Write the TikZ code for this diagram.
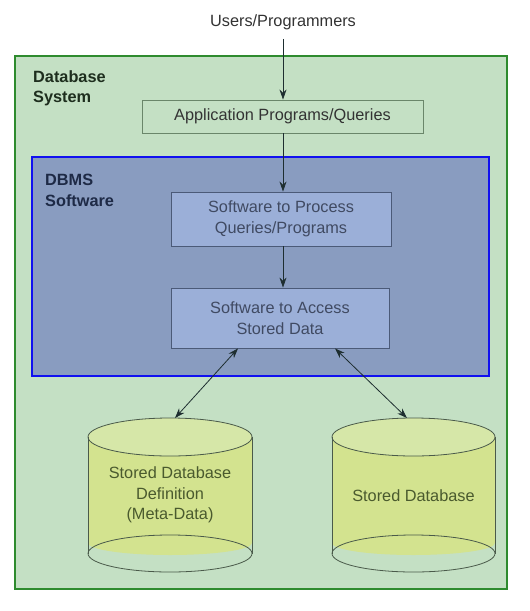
\documentclass[tikz,border=0pt]{standalone}
\usepackage{fontspec}
\setmainfont{Liberation Sans}
\usetikzlibrary{arrows.meta,calc}

\definecolor{sysfill}{HTML}{C4E0C4}
\definecolor{sysline}{HTML}{2E8B2E}
\definecolor{dbmsfill}{HTML}{899CC0}
\definecolor{dbmsline}{HTML}{1010F0}
\definecolor{boxfill}{HTML}{9BAFD8}
\definecolor{boxline}{HTML}{4B5A78}
\definecolor{appline}{HTML}{6A866A}
\definecolor{navytext}{HTML}{1E2A46}
\definecolor{greentext}{HTML}{1E2E1E}
\definecolor{cyltop}{HTML}{D6E7A8}
\definecolor{cylbody}{HTML}{D3E38F}
\definecolor{cylline}{HTML}{4A5A4A}
\definecolor{cyltext}{HTML}{4A5A2E}
\definecolor{arrowcol}{HTML}{1E2E30}

\tikzset{
  every node/.style={font=\fontsize{16.3}{20.5}\selectfont, inner sep=0pt},
  procbox/.style={draw=boxline, fill=boxfill, line width=0.9pt, text=navytext!85!white,
    align=center},
  appbox/.style={draw=appline, fill=sysfill, line width=0.9pt, text=black!80},
  flow/.style={draw=arrowcol, line width=0.8pt, -{Stealth[length=10pt,width=7pt]}},
  biflow/.style={draw=arrowcol, line width=0.8pt,
    {Stealth[length=10pt,width=7pt]}-{Stealth[length=10pt,width=7pt]}},
  heading/.style={font=\bfseries\fontsize{16.3}{20.5}\selectfont, align=left, anchor=north west},
  cylinder line/.style={draw=cylline, line width=0.8pt},
}

\begin{document}
\begin{tikzpicture}[x=1pt, y=-1pt]
  \useasboundingbox (0,0) rectangle (530,611);

  % Database system container
  \node[draw=sysline, fill=sysfill, line width=1.6pt, minimum width=492pt,
        minimum height=533pt] (system) at (261,322.5) {};
  \node[heading, text=greentext] (systitle) at (33,70) {Database\\System};

  % DBMS software container
  \node[draw=dbmsline, fill=dbmsfill, line width=1.6pt, minimum width=457pt,
        minimum height=219pt] (dbms) at (260.5,266.5) {};
  \node[heading, text=navytext] (dbmstitle) at (45,174) {DBMS\\Software};

  % Users and application layer
  \node[text=black!80] (users) at (283,22) {Users/Programmers};
  \node[appbox, minimum width=281pt, minimum height=33pt] (app) at (282.5,116.5)
    {Application Programs/Queries};

  % DBMS modules
  \node[procbox, minimum width=220pt, minimum height=54pt] (process) at (281,219)
    {Software to Process\\Queries/Programs};
  \node[procbox, minimum width=218pt, minimum height=60pt] (access) at (280,318)
    {Software to Access\\Stored Data};

  % Stored data cylinders
  \foreach \cx/\rx/\name in {170/82/meta, 413.5/81.5/data}{
    % body fill
    \fill[cylbody] (\cx-\rx,437) -- (\cx-\rx,543)
      arc[start angle=180, end angle=360, x radius=\rx, y radius=-12]
      -- (\cx+\rx,437) -- cycle;
    % top face
    \fill[cyltop] (\cx,437) ellipse[x radius=\rx, y radius=19];
    % outlines
    \draw[cylinder line] (\cx,437) ellipse[x radius=\rx, y radius=19];
    \draw[cylinder line] (\cx,553.5) ellipse[x radius=\rx, y radius=18.5];
    \draw[cylinder line] (\cx-\rx,437) -- (\cx-\rx,553.5);
    \draw[cylinder line] (\cx+\rx,437) -- (\cx+\rx,553.5);
  }
  \node[text=cyltext, align=center] (metalabel) at (170,495)
    {Stored Database\\Definition\\(Meta-Data)};
  \node[text=cyltext] (datalabel) at (413.5,496) {Stored Database};

  % Connector end points
  \coordinate (usersfoot) at ([yshift=-9pt]users.south);
  \coordinate (metaend) at (175,418);
  \coordinate (dataend) at (407,418);
  \coordinate (accessleft) at ([xshift=-42pt]access.south);
  \coordinate (accessright) at ([xshift=55pt]access.south);

  % Connectors
  \draw[flow] (usersfoot) -- (app.north -| usersfoot);
  \draw[flow] (app.south -| usersfoot) -- (process.north -| usersfoot);
  \draw[flow] (process.south -| usersfoot) -- (access.north -| usersfoot);
  \draw[biflow] (accessleft) -- (metaend);
  \draw[biflow] (accessright) -- (dataend);
\end{tikzpicture}
\end{document}
